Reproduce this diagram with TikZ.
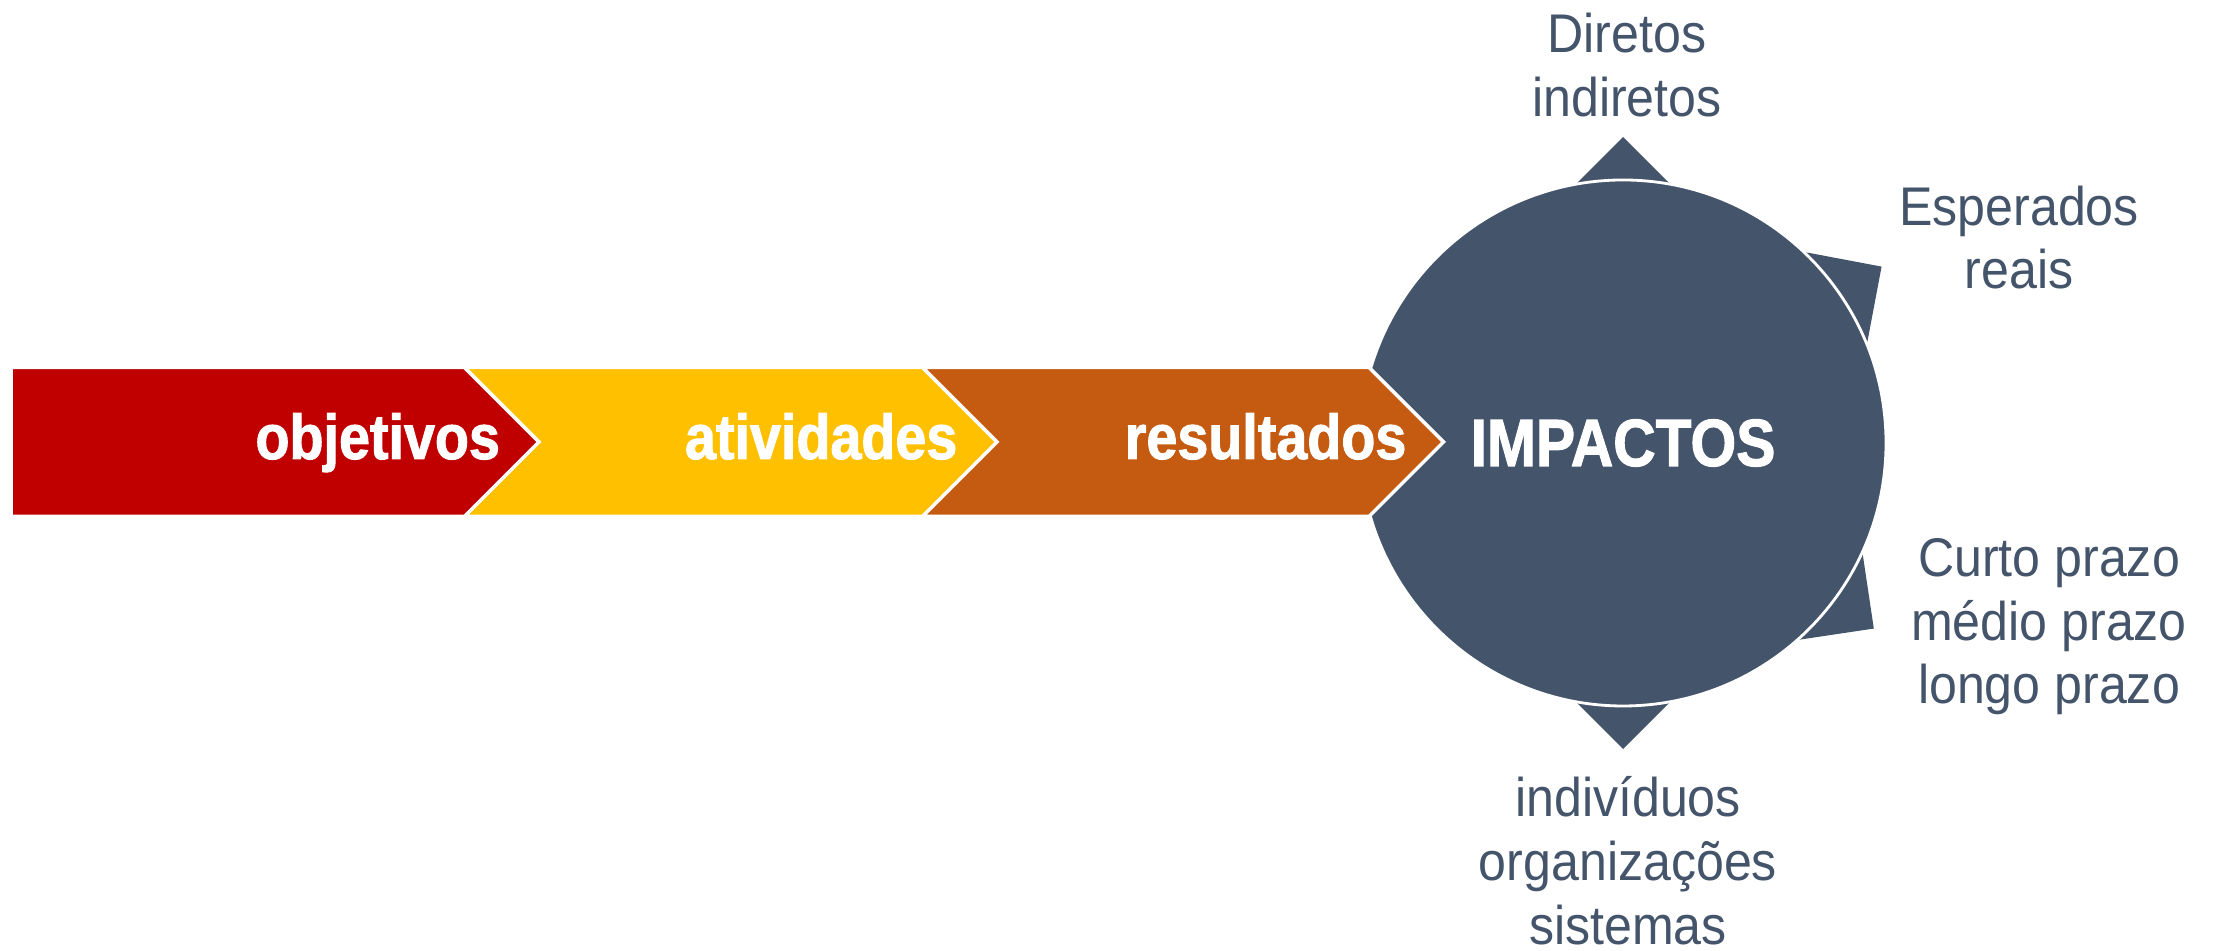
\documentclass[tikz,border=0pt]{standalone}
\usepackage{fontspec}
\usepackage{xcolor}
\usepackage{tikz}
\usetikzlibrary{shapes, calc}

\setmainfont{Liberation Sans}
\newfontfamily\lightfont[FakeStretch=0.92]{Liberation Sans}
\newfontfamily\heavyfont[FakeStretch=0.88, FakeBold=1.6]{Liberation Sans}

\definecolor{objred}{HTML}{C00000}
\definecolor{atvyellow}{HTML}{FFC000}
\definecolor{resorange}{HTML}{C55A11}
\definecolor{impslate}{HTML}{44546A}

\begin{document}
\begin{tikzpicture}[
        chev/.style={draw=white, line width=1pt},
        chevtext/.style={anchor=base east, inner sep=0pt, text=white, font=\heavyfont\bfseries\fontsize{18}{20}\selectfont},
        outtext/.style={anchor=north, inner sep=0pt, align=center, text=impslate, font=\lightfont\fontsize{15.5}{18.1}\selectfont}]
        \useasboundingbox (0,0) rectangle (22.15,9.51);
        \coordinate (c) at (16.23,5.08);

        % points behind the circle
        \foreach \a/\d in {90/3.06, 34.3/3.13, -36.5/3.12, -90/3.06}
            \fill[impslate, shift={(c)}, rotate=\a] (\d,0) -- (\d-0.8,0.8) -- (\d-0.8,-0.8) -- cycle;
        \node[circle, minimum size=5.26cm, inner sep=0pt, fill=impslate, draw=white, line width=0.8pt,
              text=white, font=\heavyfont\bfseries\fontsize{19}{21}\selectfont] (imp) at (c) {IMPACTOS};

        \draw[chev, fill=objred] (0.11,5.835) -- (4.645,5.835) -- (5.39,5.09) -- (4.645,4.345) -- (0.11,4.345) -- cycle;
        \draw[chev, fill=atvyellow] (4.645,5.835) -- (9.225,5.835) -- (9.97,5.09) -- (9.225,4.345) -- (4.645,4.345) -- (5.39,5.09) -- cycle;
        \draw[chev, fill=resorange] (9.225,5.835) -- (13.69,5.835) -- (14.435,5.09) -- (13.69,4.345) -- (9.225,4.345) -- (9.97,5.09) -- cycle;

        \node[chevtext] (obj) at (5.006,4.92) {objetivos};
        \node[chevtext] (atv) at (9.58,4.92) {atividades};
        \node[chevtext] (res) at (14.07,4.92) {resultados};

        \node[outtext] (dir) at (16.27,9.383) {Diretos\\indiretos};
        \node[outtext] (esp) at (20.19,7.66) {Esperados\\reais};
        \node[outtext] (prazo) at (20.49,4.13) {Curto prazo\\médio prazo\\longo prazo};
        \node[outtext] (ind) at (16.28,1.75) {indivíduos\\organizações\\sistemas};

    \end{tikzpicture}
\end{document}
